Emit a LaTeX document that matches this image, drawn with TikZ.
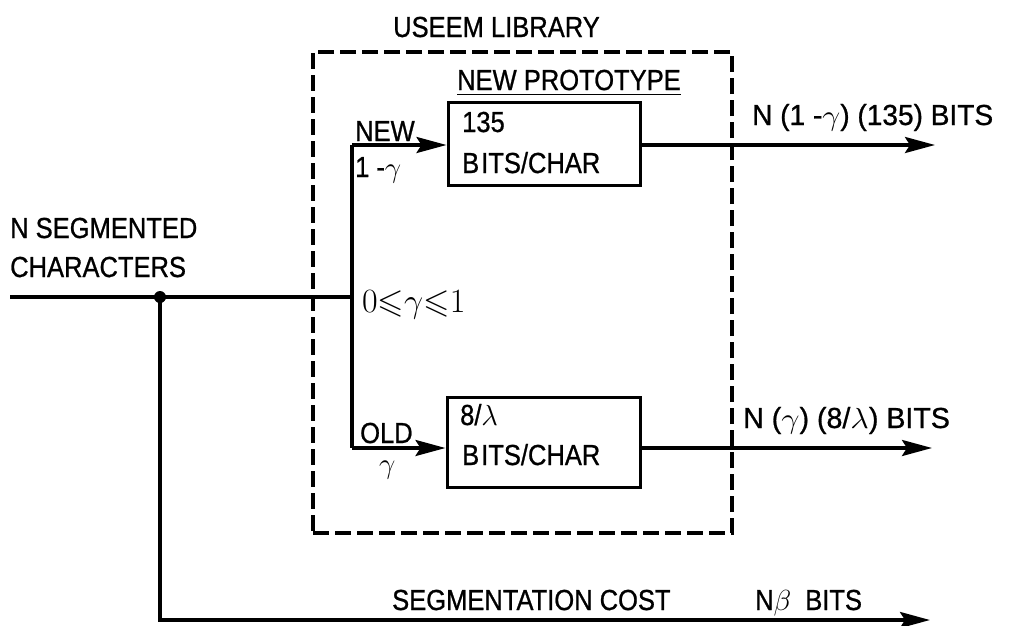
\RequirePackage{fix-cm}
\documentclass[tikz,border=0pt]{standalone}
\usepackage{fontspec}
\setmainfont{Liberation Sans}[FakeStretch=0.88,FakeBold=0.8]
\usepackage{amssymb}
\usepackage{graphicx}
\usetikzlibrary{arrows.meta}
\begin{document}
\begin{tikzpicture}[x=1pt,y=-1pt,
  lbl/.style={font=\fontsize{29}{38}\selectfont, inner sep=0pt, anchor=base west},
  wire/.style={line width=3.4pt},
  arr/.style={wire, -{Stealth[length=30pt,width=16pt,inset=5pt]}},
  blk/.style={draw, line width=3pt, inner sep=0pt},
  libbox/.style={draw, line width=3.8pt, dash pattern=on 16pt off 6pt, inner sep=0pt}]
\useasboundingbox (0,0) rectangle (1015,625);

% library frame and blocks
\node[libbox, minimum width=419pt, minimum height=481pt] (lib) at (522.5,292.5) {};
\node[blk, minimum width=192pt, minimum height=83pt] (up) at (544,143.5) {};
\node[blk, minimum width=193pt, minimum height=90pt] (lo) at (543.5,442) {};

% texts
\node[lbl] (title) at (393,37) {USEEM LIBRARY};
\node[lbl] (np) at (457,90) {\underline{NEW PROTOTYPE}};
\node[lbl] (t135) at (462,132) {135};
\node[lbl] (tbc1) at (462,173) {B\kern2pt ITS/CHAR};
\node[lbl] (t8l) at (460,425) {8/$\lambda$};
\node[lbl] (tbc2) at (462,465) {B\kern2pt ITS/CHAR};
\node[lbl] (nseg) at (10,238) {N SEGMENTED};
\node[lbl] (chars) at (10,277) {CHARACTERS};
\node[lbl, font=\fontsize{34}{40}\selectfont] (range) at (362,312) {$0{\leqslant}\gamma{\leqslant}1$};
\node[lbl] (new) at (355,141) {NEW};
\node[lbl] (omg) at (355,177) {1 -$\gamma$};
\node[lbl] (old) at (360,443) {OLD};
\node[lbl] (gam) at (379,473) {$\gamma$};
\node[lbl] (outU) at (752,125) {\scalebox{1.1}[1]{N (1 -$\gamma$) (135) BITS}};
\node[lbl] (outL) at (743,428) {\scalebox{1.12}[1]{N ($\gamma$) (8/$\lambda$) BITS}};
\node[lbl] (segc) at (392,610) {SEGMENTATION COST};
\node[lbl] (nb) at (755,610) {N$\beta$\hspace{14pt}BITS};

% connection points
\coordinate (in) at (10,297);
\coordinate (j) at (160,297);
\coordinate (sw) at (352,297);
\coordinate (bU) at (352,145);
\coordinate (bL) at (352,448);
\coordinate (oU) at (935,145);
\coordinate (oL) at (932,448);
\coordinate (corner) at (160,620);
\coordinate (oB) at (930,620);

% connectors
\draw[wire] (in) -- (sw);
\fill (j) circle (6pt);
\draw[wire] (bU) -- (bL);
\draw[arr] (bU) -- (bU -| up.west);
\draw[arr] (bL) -- (bL -| lo.west);
\draw[arr] (up.east |- oU) -- (oU);
\draw[arr] (lo.east |- oL) -- (oL);
\draw[arr] (j) -- (corner) -- (oB);
\end{tikzpicture}
\end{document}
